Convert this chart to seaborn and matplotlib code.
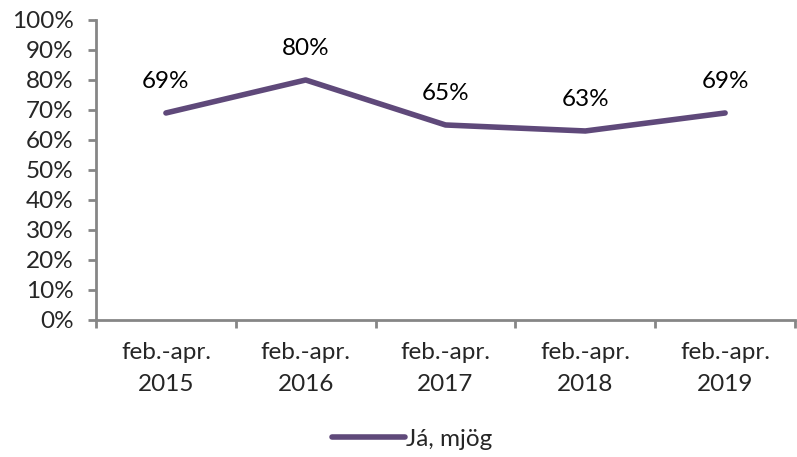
import matplotlib
matplotlib.use("Agg")
import matplotlib.pyplot as plt
import seaborn as sns
import pandas as pd
from matplotlib.ticker import PercentFormatter

sns.set_theme(style="white")
plt.rcParams["font.family"] = ["Lato", "DejaVu Sans"]

# Data
periods = ["feb.-apr.\n2015", "feb.-apr.\n2016", "feb.-apr.\n2017", "feb.-apr.\n2018", "feb.-apr.\n2019"]
values = [0.69, 0.80, 0.65, 0.63, 0.69]
series_name = "Já, mjög"

df = pd.DataFrame({"period": periods, "value": values, "series": series_name})
line_colour = "#5F497A"
axis_colour = "#868686"
fs = 17.5

fig = plt.figure(figsize=(7.97, 4.57), dpi=100)
ax = fig.add_axes([0.1205, 0.2998, 0.877, 0.6565])

sns.lineplot(data=df, x="period", y="value", hue="series", palette=[line_colour],
             linewidth=4.0, ax=ax, sort=False)

for i, v in enumerate(values):
    ax.annotate(f"{v*100:.0f}%", (i, v), xytext=(0, 23), textcoords="offset points",
                ha="center", va="center", fontsize=fs, color="black")

ax.set_xlim(-0.5, len(periods) - 0.5)
ax.set_ylim(0, 1)
ax.set_yticks([i / 10 for i in range(11)])
ax.yaxis.set_major_formatter(PercentFormatter(1.0, decimals=0))
ax.set_xticks(range(len(periods)))
ax.set_xticklabels(periods)
ax.set_xticks([i - 0.5 for i in range(len(periods) + 1)], minor=True)
ax.set(xlabel=None, ylabel=None)

for side in ["top", "right"]:
    ax.spines[side].set_visible(False)
for side in ["left", "bottom"]:
    ax.spines[side].set_color(axis_colour)
    ax.spines[side].set_linewidth(2)

ax.tick_params(axis="y", which="major", direction="out", length=6, width=2, color=axis_colour,
               labelsize=fs, pad=10, left=True)
ax.tick_params(axis="x", which="major", length=0, labelsize=fs, pad=16)
ax.tick_params(axis="x", which="minor", direction="out", length=6, width=2, color=axis_colour,
               bottom=True)
for lbl in ax.get_xticklabels():
    lbl.set_linespacing(1.62)

ax.legend(loc="upper center", bbox_to_anchor=(0.452, -0.29), frameon=False, fontsize=fs,
          handlelength=3.0, handletextpad=0.05)

fig.savefig("out.png", dpi=100)
